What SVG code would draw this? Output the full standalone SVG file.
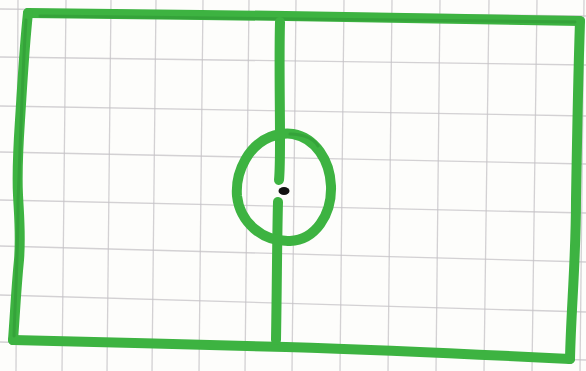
<svg xmlns="http://www.w3.org/2000/svg" width="586" height="371" viewBox="0 0 586 371">
<style>
.grid{stroke:#c4c1c6;stroke-width:1.3;fill:none;opacity:0.75}
.ink{fill:none;stroke:#3db341;stroke-width:10;stroke-linecap:round;stroke-linejoin:round}
.inkd{fill:none;stroke:#237d2a;stroke-width:3;stroke-linecap:round;stroke-linejoin:round;opacity:0.3}
</style>
<rect width="586" height="371" fill="#fdfdfb"/>
<g id="grid">
<path class="grid" d="M18 0 L16 371"/>
<path class="grid" d="M66 0 L62 371"/>
<path class="grid" d="M111 0 L107 371"/>
<path class="grid" d="M156 0 L152 371"/>
<path class="grid" d="M203 0 L199 371"/>
<path class="grid" d="M249 0 L245 371"/>
<path class="grid" d="M296 0 L292 371"/>
<path class="grid" d="M344 0 L340 371"/>
<path class="grid" d="M392 0 L388 371"/>
<path class="grid" d="M440 0 L436 371"/>
<path class="grid" d="M489 0 L484 371"/>
<path class="grid" d="M537 0 L532 371"/>
<path class="grid" d="M584 0 L580 371"/>
<path class="grid" d="M0 9 L586 16"/>
<path class="grid" d="M0 57 L586 65"/>
<path class="grid" d="M0 106 L586 116"/>
<path class="grid" d="M0 152 L586 164"/>
<path class="grid" d="M0 200 L586 213"/>
<path class="grid" d="M0 246 L586 262"/>
<path class="grid" d="M0 295 L586 312"/>
<path class="grid" d="M0 342 L586 360"/>
</g>
<g id="field">
<path class="ink" d="M28 13 C120 14 200 15 286 16 C380 17 480 19 580 21"/>
<path class="ink" d="M28 13 C24 50 22 90 20 120 C18 150 17 175 18 195 C19 215 21 235 19 260 C16 290 15 315 13 340"/>
<path class="ink" d="M13 340 C100 342 200 345 286 347 C380 350 470 354 570 359"/>
<path class="ink" d="M580 21 C578 80 577 140 576 200 C576 260 571 310 570 359"/>
<path class="inkd" d="M26 20 C22 80 20 160 18 200 C18 260 15 300 14 336"/>
<path class="inkd" d="M40 16 C150 17 300 18 575 22"/>
</g>
<g id="halfway">
<path class="ink" d="M280 22 C279 60 280 100 280 140 C280 160 280 170 279 180"/>
<path class="ink" d="M278 202 C277 240 277 280 276 340"/>
</g>
<g id="circle">
<path class="ink" d="M293 134 C315 138 330 160 331 186 C332 215 315 240 290 241 C262 242 240 222 237 196 C235 170 250 145 270 137 C278 134 286 133 293 134 Z"/>
<path class="inkd" d="M290 134 C305 134 315 140 318 146"/>
</g>
<ellipse id="spot" cx="284" cy="191" rx="5.5" ry="4" fill="#111"/>
</svg>
